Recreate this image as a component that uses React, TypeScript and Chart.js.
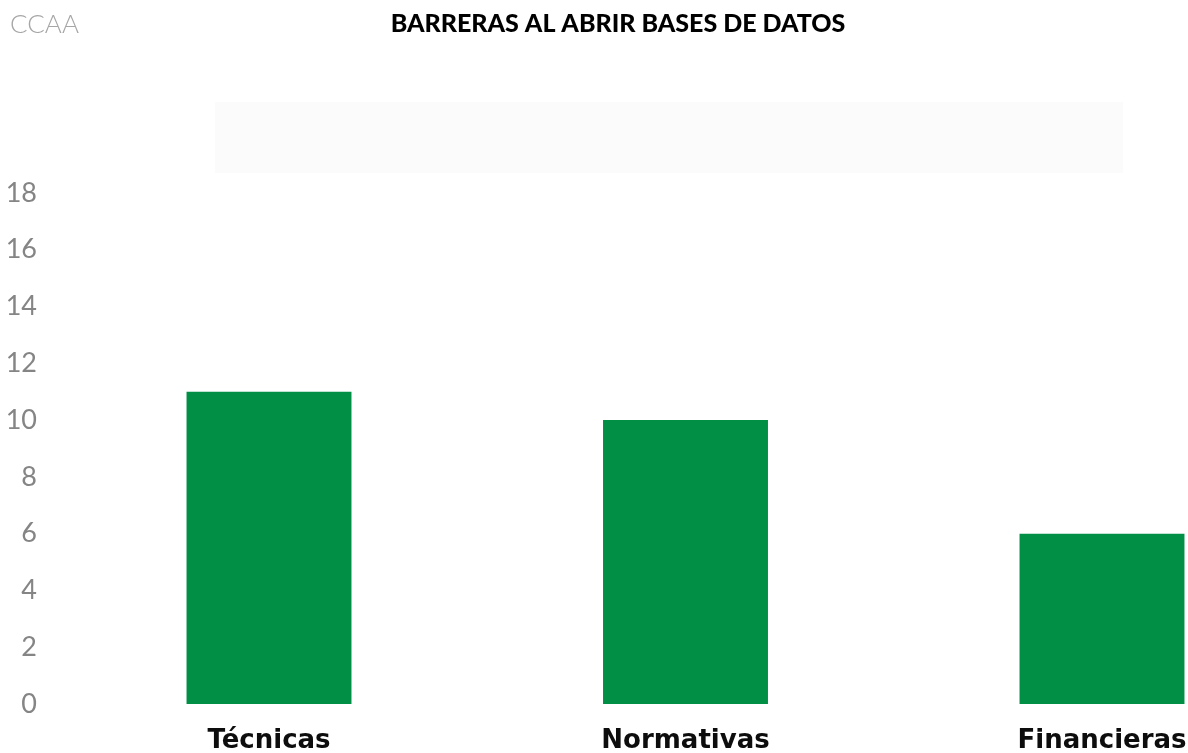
import React, { useEffect, useRef } from "react";
import { Chart, registerables } from "chart.js";

Chart.register(...registerables);

const categories = ["Técnicas", "Normativas", "Financieras"];
const values = [11, 10, 6];
const yTicks = [0, 2, 4, 6, 8, 10, 12, 14, 16, 18];
const titleText = "BARRERAS AL ABRIR BASES DE DATOS";
const cornerText = "CCAA";

const W = 1188;
const H = 753;

const decorPlugin = {
  id: "decor",
  beforeDraw(chart: any) {
    const ctx = chart.ctx;
    ctx.save();
    ctx.fillStyle = "#ffffff";
    ctx.fillRect(0, 0, W, H);
    // empty legend panel
    ctx.fillStyle = "#fafbfa";
    ctx.fillRect(215, 102, 908, 71);
    // corner label
    ctx.fillStyle = "#a6a6a6";
    ctx.font = "300 26px Lato";
    ctx.textAlign = "left";
    ctx.textBaseline = "alphabetic";
    ctx.fillText(cornerText, 10, 33);
    // title
    ctx.fillStyle = "#000000";
    ctx.font = "900 25px Lato";
    ctx.textAlign = "center";
    ctx.fillText(titleText, 618, 32);
    ctx.restore();
  },
};

export default function App() {
  const ref = useRef<HTMLCanvasElement | null>(null);

  useEffect(() => {
    if (!ref.current) return;
    const chart = new Chart(ref.current, {
      type: "bar",
      data: {
        labels: categories,
        datasets: [
          {
            data: values,
            backgroundColor: "#018f45",
            borderWidth: 0,
            barPercentage: 1,
            categoryPercentage: 0.396,
            clip: false as any,
          },
        ],
      },
      options: {
        responsive: false,
        animation: false,
        layout: { padding: { top: 193, right: 86, left: 0, bottom: 0 } },
        plugins: {
          legend: { display: false },
          title: { display: false },
          tooltip: { enabled: false },
        },
        scales: {
          x: {
            type: "category",
            offset: false,
            grid: { display: false, drawTicks: false },
            border: { display: false },
            ticks: {
              color: "#0d0d0d",
              font: { family: "DejaVu Sans", size: 26, weight: "bold" },
              padding: 22,
              maxRotation: 0,
              autoSkip: false,
            },
            afterFit(scale: any) {
              scale.height = 49;
              scale.paddingLeft = 0;
              scale.paddingRight = 0;
            },
          },
          y: {
            min: 0,
            max: 18,
            grid: { display: false, drawTicks: false },
            border: { display: false },
            afterBuildTicks(scale: any) {
              scale.ticks = yTicks.map((v) => ({ value: v }));
            },
            ticks: {
              color: "#858585",
              font: { family: "Lato", size: 27 },
              padding: 232,
            },
            afterFit(scale: any) {
              scale.width = 269;
              scale.paddingTop = 0;
              scale.paddingBottom = 0;
            },
          },
        },
      },
      plugins: [decorPlugin],
    });
    return () => chart.destroy();
  }, []);

  return (
    <div style={{ position: "fixed", left: 0, top: 0, width: W, height: H, background: "#fff" }}>
      <canvas ref={ref} width={W} height={H} style={{ display: "block" }} />
    </div>
  );
}
